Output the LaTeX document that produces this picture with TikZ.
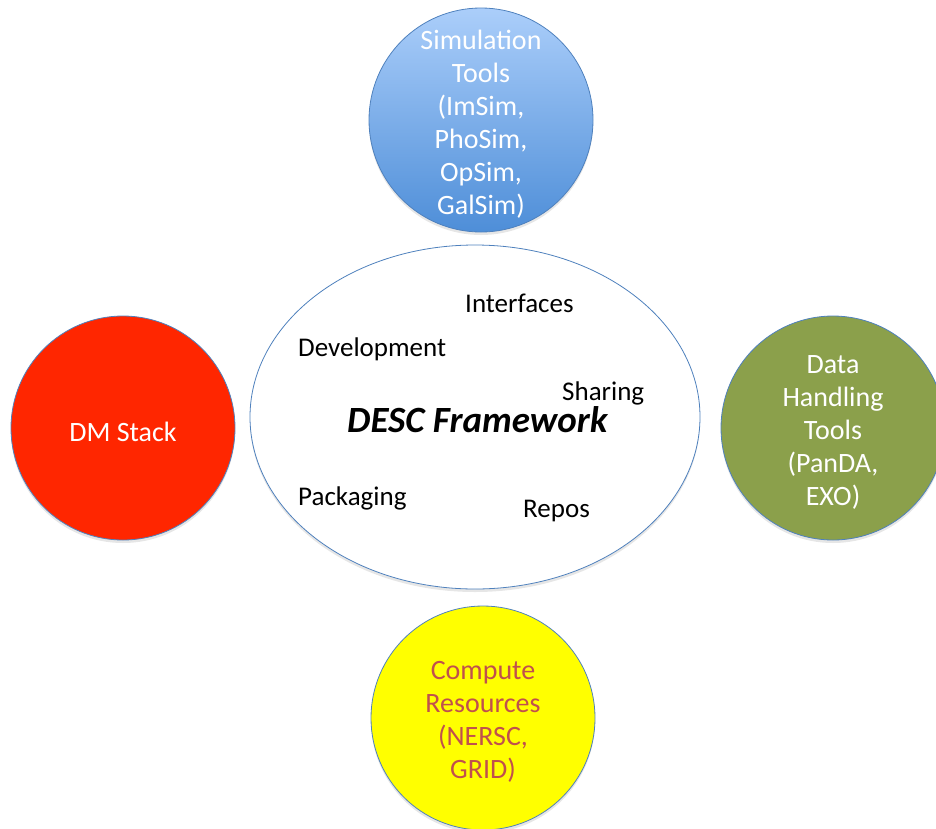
\documentclass[tikz,border=0pt]{standalone}
\usepackage{fontspec}
\setmainfont{Carlito}
\usetikzlibrary{shapes.geometric, shadows}

\definecolor{simtop}{HTML}{ABCEFA}
\definecolor{simbot}{HTML}{4E8ED8}
\definecolor{dmred}{HTML}{FF2600}
\definecolor{dataolive}{HTML}{8BA04B}
\definecolor{compyellow}{HTML}{FFFF00}
\definecolor{comptext}{HTML}{C0504D}
\definecolor{rimblue}{HTML}{4F81BD}

\begin{document}
\begin{tikzpicture}[x=1pt, y=-1pt,
    tool/.style={circle, draw=rimblue, line width=0.8pt, minimum size=224pt, inner sep=0pt,
        drop shadow={opacity=0.2, shadow xshift=0pt, shadow yshift=-3pt}},
    tooltext/.style={align=center, inner sep=0pt, text=white, font=\fontsize{28}{33}\selectfont},
    word/.style={anchor=base west, inner sep=0pt, font=\fontsize{27}{32}\selectfont}]
    \useasboundingbox (0,0) rectangle (936,828);

    % Framework ellipse in the middle
    \node[ellipse, draw=rimblue, line width=0.8pt, fill=white, minimum width=450pt, minimum height=344pt,
        drop shadow={opacity=0.2, shadow xshift=0pt, shadow yshift=-3pt}] (frame) at (475,417) {};

    % Words inside the ellipse
    \node[word] (iface) at (465,312) {Interfaces};
    \node[word] (devel) at (298,356) {Development};
    \node[word] (share) at (562,400) {Sharing};
    \node[word, font=\fontsize{37}{42}\selectfont\bfseries\itshape] (desc) at (347,432) {DESC Framework};
    \node[word] (pack) at (298,505) {Packaging};
    \node[word] (repos) at (523,517) {Repos};

    % Tool circles around it
    \node[tool, top color=simtop, bottom color=simbot] (sim) at (481,120) {};
    \node[tool, fill=dmred] (dm) at (123,428) {};
    \node[tool, fill=dataolive] (data) at (833,428) {};
    \node[tool, fill=compyellow] (comp) at (483,718) {};

    % Their labels, set a little low
    \node[tooltext] (simlabel) at ([yshift=-4pt]sim.center)
        {Simulation\\Tools\\(ImSim,\\PhoSim,\\OpSim,\\GalSim)};
    \node[tooltext] (dmlabel) at ([yshift=-4pt]dm.center) {DM Stack};
    \node[tooltext] (datalabel) at ([yshift=-4pt]data.center) {Data\\Handling\\Tools\\(PanDA,\\EXO)};
    \node[tooltext, text=comptext] (complabel) at ([yshift=-4pt]comp.center)
        {Compute\\Resources\\(NERSC,\\GRID)};
\end{tikzpicture}
\end{document}
